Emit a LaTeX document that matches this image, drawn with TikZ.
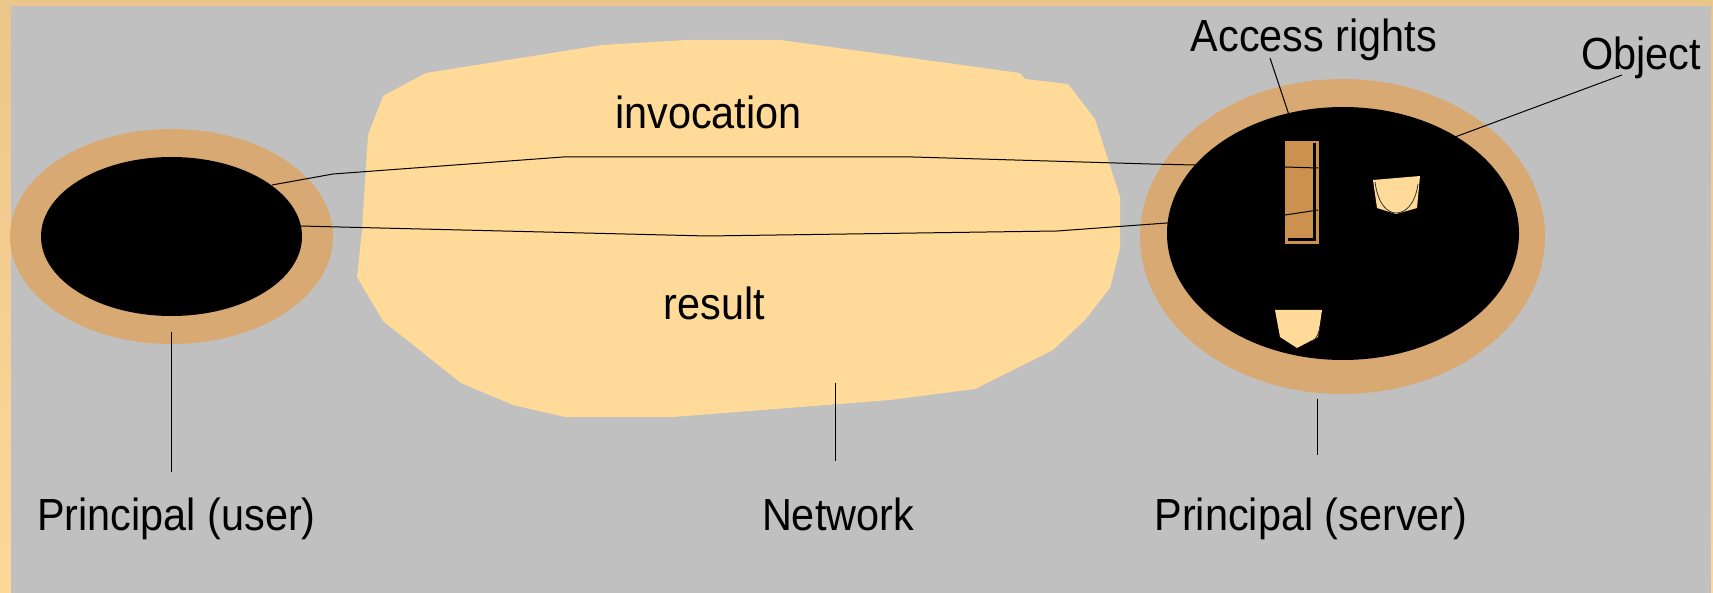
\documentclass[tikz,border=0pt]{standalone}
\usepackage{fontspec}
\setmainfont{Liberation Sans}
\definecolor{bggray}{HTML}{C0C0C0}
\definecolor{ring}{HTML}{D8A973}
\definecolor{netfill}{HTML}{FFDA98}
\definecolor{rights}{HTML}{CC914F}
\definecolor{frametop}{HTML}{EBC68A}
\definecolor{framebot}{HTML}{FFD898}
\begin{document}
\begin{tikzpicture}[x=1pt,y=-1pt,
  lbl/.style={font=\fontsize{45}{54}\selectfont, anchor=base, inner sep=0pt, xscale=0.92},
  wire/.style={black, line width=1pt},
  lead/.style={black, line width=1pt},
  objshape/.style={fill=netfill},
  objcurve/.style={black!80, line width=0.8pt}]
\useasboundingbox (0,0) rectangle (1713,593);
% frame
\begin{scope}[y=1pt]
  \shade[top color=frametop, bottom color=framebot] (0,-593) rectangle (1713,0);
\end{scope}
\fill[bggray] (11,6) rectangle (1711,593);

% network cloud
\fill[netfill] (383,96) -- (426,73) -- (602,45) -- (687,40) -- (780,40) -- (1020,73) -- (1025,79)
  -- (1068,84) -- (1095,119) -- (1120,197) -- (1120,248) -- (1110,288) -- (1085,320)
  -- (1053,350) -- (975,389) -- (890,400) -- (673,417) -- (565,417) -- (513,405)
  -- (461,383) -- (383,321) -- (357,277) -- (362,230) -- (368,135) -- cycle;

% user principal
\fill[ring] (171.5,236.5) ellipse [x radius=161.5, y radius=107.5];
\fill[black] (171.5,236.5) ellipse [x radius=130.5, y radius=79.5];

% server principal
\fill[ring] (1342.5,236.5) ellipse [x radius=202.5, y radius=157.5];
\fill[black] (1343,233.5) ellipse [x radius=176, y radius=126.5];

% access rights
\fill[rights] (1285,141) rectangle (1318,243);
\fill[black] (1313,143) rectangle (1316,241);
\fill[black] (1288,238) rectangle (1316,241);
\draw[rights, line width=0.6pt] (1285,141) rectangle (1318,243);

% objects
\fill[objshape] (1373,180) -- (1420,176) -- (1417,208) -- (1396,214) -- (1377,208) -- cycle;
\draw[objcurve] (1375,182) .. controls (1378,205) and (1388,213) .. (1396,213)
  .. controls (1405,213) and (1415,205) .. (1418,184);
\fill[objshape] (1275,310) -- (1322,310) -- (1318,337) -- (1297,348) -- (1280,337) -- cycle;
\draw[objcurve] (1320,326) .. controls (1319,333) and (1317,338) .. (1312,342);

% connectors
\coordinate (invA) at (272,185);
\coordinate (invB) at (1318,168);
\coordinate (resA) at (300,226);
\coordinate (resB) at (1318,210);
\draw[wire] (invA) -- (333,174) -- (563,157) -- (913,157) -- (1150,164) -- (1285,167) -- (invB);
\draw[wire] (resA) -- (380,228) -- (707,236) -- (1057,231) -- (1167,223) -- (1285,215) -- (resB);

% labels
\node[lbl] (inv) at (708.5,129) {invocation};
\node[lbl] (res) at (714.5,320) {result};
\node[lbl] (acc) at (1314,52) {Access rights};
\node[lbl] (obj) at (1641,70) {Object};
\node[lbl] (pu) at (176.5,530) {Principal (user)};
\node[lbl] (net) at (838,530) {Network};
\node[lbl] (ps) at (1311,530) {Principal (server)};

% leader lines
\coordinate (accTip) at (1289,115);
\coordinate (accTail) at (1270,58);
\coordinate (objTip) at (1455,137);
\coordinate (objTail) at (1622,75);
\coordinate (puTop) at (171,332);
\coordinate (puBot) at (171,472);
\coordinate (netTop) at (835,383);
\coordinate (netBot) at (835,461);
\coordinate (psTop) at (1317,399);
\coordinate (psBot) at (1317,455);
\draw[lead] (accTail) -- (accTip);
\draw[lead] (objTail) -- (objTip);
\draw[lead] (puTop) -- (puBot);
\draw[lead] (netTop) -- (netBot);
\draw[lead] (psTop) -- (psBot);
\end{tikzpicture}
\end{document}
